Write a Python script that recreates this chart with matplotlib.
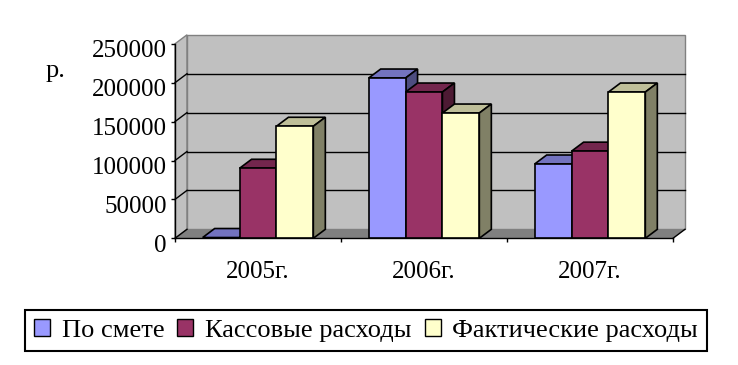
import matplotlib
matplotlib.use("Agg")
import matplotlib.pyplot as plt
from matplotlib.patches import Polygon, Patch
from matplotlib.transforms import ScaledTranslation
from matplotlib.colors import to_rgb

plt.rcParams['font.family'] = ['Liberation Serif', 'DejaVu Serif']

# data
years = ['2005г.', '2006г.', '2007г.']
series_names = ['По смете', 'Кассовые расходы', 'Фактические расходы']
po_smete = [1000, 206000, 95500]
kassovye = [90000, 188000, 112000]
fakticheskie = [144000, 161000, 188000]
y_ticks = [0, 50000, 100000, 150000, 200000, 250000]

colors = ['#9999ff', '#993366', '#ffffcc']
W, H = 738, 365
DEPTH_PX = (12, 9)


def shade(c, k):
    r, g, b = to_rgb(c)
    return (r * k, g * k, b * k)


fig = plt.figure(figsize=(W / 100, H / 100), dpi=100)
ax_l, ax_b, ax_w, ax_h = 175, 238.3, 498, 194.5
ax = fig.add_axes([ax_l / W, (H - ax_b) / H, ax_w / W, ax_h / H])
ax.set_facecolor('none')
ymax = y_ticks[-1]
ncat = len(years)
ax.set_xlim(0, ncat)
ax.set_ylim(0, ymax)

dx = DEPTH_PX[0] / ax_w * ncat
dy = DEPTH_PX[1] / ax_h * ymax

# walls and floor
ax.add_patch(Polygon([(0, 0), (0, ymax), (dx, ymax + dy), (dx, dy)], closed=True,
                     fc='#c0c0c0', ec='#808080', lw=1, clip_on=False, zorder=0.5))
ax.add_patch(Polygon([(dx, dy), (ncat + dx, dy), (ncat + dx, ymax + dy), (dx, ymax + dy)], closed=True,
                     fc='#c0c0c0', ec='#808080', lw=1, clip_on=False, zorder=0.5))
ax.add_patch(Polygon([(0, 0), (ncat, 0), (ncat + dx, dy), (dx, dy)], closed=True,
                     fc='#808080', ec='none', clip_on=False, zorder=0.6))
ax.plot([ncat, ncat + dx], [0, dy], color='black', lw=1, clip_on=False, zorder=0.7)
ax.plot([0, dx], [0, dy], color='black', lw=1, clip_on=False, zorder=0.7)

for v in y_ticks[1:-1]:
    ax.plot([dx, ncat + dx], [v + dy, v + dy], color='black', lw=1, clip_on=False, zorder=0.8)
    ax.plot([0, dx], [v, v + dy], color='black', lw=1, clip_on=False, zorder=0.8)

# bars with 3d faces
bw = 1 / 4.5
all_series = [po_smete, kassovye, fakticheskie]
for si, vals in enumerate(all_series):
    xs = [i + 0.5 + (si - 1) * bw for i in range(ncat)]
    bars = ax.bar(xs, vals, width=bw, color=colors[si], edgecolor='black', lw=1.2, zorder=2)
    for ci, rect in enumerate(bars):
        z = 2 + (ci * 3 + si) * 0.1
        rect.set_zorder(z + 0.02)
        x0 = rect.get_x()
        x1 = x0 + rect.get_width()
        h = rect.get_height()
        top = Polygon([(x0, h), (x1, h), (x1 + dx, h + dy), (x0 + dx, h + dy)], closed=True,
                      fc=shade(colors[si], 0.75), ec='black', lw=1.2, joinstyle='miter',
                      clip_on=False, zorder=z)
        side = Polygon([(x1, 0), (x1 + dx, dy), (x1 + dx, h + dy), (x1, h)], closed=True,
                       fc=shade(colors[si], 0.5), ec='black', lw=1.2, joinstyle='miter',
                       clip_on=False, zorder=z + 0.01)
        ax.add_patch(top)
        ax.add_patch(side)

# axes
for s in ['top', 'right']:
    ax.spines[s].set_visible(False)
for s in ['left', 'bottom']:
    ax.spines[s].set_color('black')
    ax.spines[s].set_linewidth(1)
    ax.spines[s].set_zorder(1)

ax.set_yticks(y_ticks, labels=[str(v) for v in y_ticks])
ax.tick_params(axis='y', direction='out', length=3, width=1, pad=3, labelsize=18)
off = ScaledTranslation(0, -13.5 / 100, fig.dpi_scale_trans)
for lab in ax.get_yticklabels():
    lab.set_va('baseline')
    lab.set_transform(lab.get_transform() + off)

ax.set_xticks(range(ncat + 1), labels=[''] * (ncat + 1))
ax.tick_params(axis='x', direction='out', length=3, width=1)
for i, yr in enumerate(years):
    ax.text(i + 0.5, -40 / ax_h, yr, transform=ax.get_xaxis_transform(),
            ha='center', va='baseline', fontsize=18)

fig.text(46 / W, 1 - 76.7 / H, 'р.', ha='left', va='baseline', fontsize=19)

handles = [Patch(facecolor=c, edgecolor='black', lw=1) for c in colors]
leg = fig.legend(handles, series_names, loc='center', bbox_to_anchor=(366 / W, 1 - 330.5 / H),
                 ncol=3, frameon=True, fancybox=False, edgecolor='black', framealpha=1,
                 fontsize=19, handlelength=0.6, handleheight=0.6, handletextpad=0.45,
                 columnspacing=0.5, borderpad=0.35, borderaxespad=0)
leg.get_frame().set_linewidth(1.5)

fig.savefig('out.png', dpi=100)
